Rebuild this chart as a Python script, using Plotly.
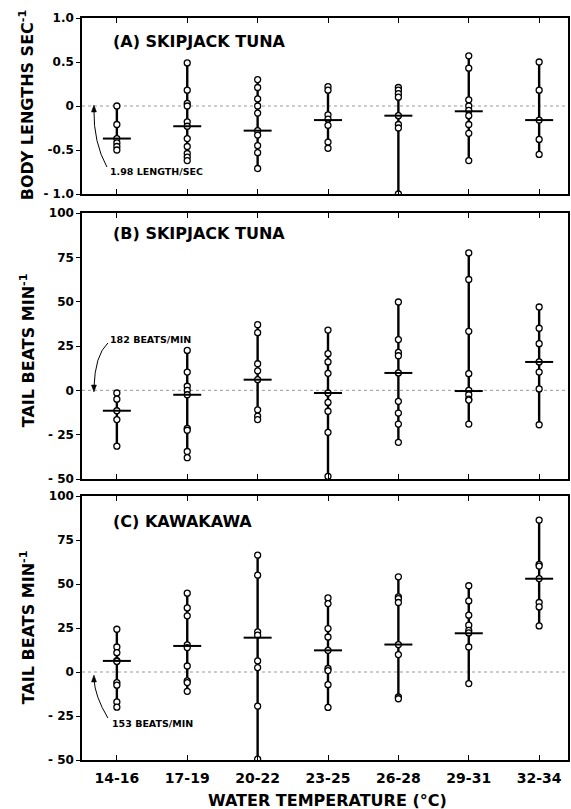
import plotly.graph_objects as go

# ---------------- data ----------------
temps = ["14-16", "17-19", "20-22", "23-25", "26-28", "29-31", "32-34"]

# (A) Skipjack tuna, body lengths / sec (relative)
a_vals = [
    [0.0, -0.21, -0.37, -0.42, -0.46, -0.50],
    [0.49, 0.18, 0.03, 0.0, -0.18, -0.23, -0.37, -0.46, -0.54, -0.58, -0.62],
    [0.30, 0.21, 0.08, 0.0, -0.08, -0.28, -0.33, -0.45, -0.53, -0.71],
    [0.22, 0.18, -0.10, -0.15, -0.22, -0.41, -0.48],
    [0.21, 0.18, 0.14, 0.10, -0.11, -0.21, -0.25, -1.0],
    [0.57, 0.43, 0.07, 0.0, -0.05, -0.11, -0.21, -0.31, -0.62],
    [0.50, 0.18, -0.16, -0.38, -0.55],
]
a_means = [-0.37, -0.23, -0.28, -0.16, -0.11, -0.06, -0.16]

# (B) Skipjack tuna, tail beats / min (relative)
b_vals = [
    [-1.5, -5.0, -11.5, -16.5, -31.5],
    [22.5, 10.3, 2.3, 0.0, -2.5, -21.5, -22.5, -34.5, -38.0],
    [37.0, 32.5, 15.0, 11.0, 6.0, -11.0, -14.5, -16.5],
    [34.0, 20.7, 16.0, 9.6, -1.5, -6.8, -11.8, -23.7, -48.5],
    [49.8, 28.6, 21.4, 19.5, 9.8, -6.2, -12.8, -19.0, -29.3],
    [77.5, 62.5, 33.3, 9.4, 0.0, -2.5, -5.0, -5.5, -19.0],
    [47.0, 35.0, 26.3, 16.0, 10.3, 0.8, -19.4],
]
b_means = [-11.5, -2.5, 6.0, -1.5, 9.8, -0.4, 16.0]

# (C) Kawakawa, tail beats / min (relative)
c_vals = [
    [24.3, 14.2, 11.0, 6.5, 6.0, -6.0, -7.5, -17.0, -20.0],
    [44.8, 36.4, 31.9, 15.4, 13.9, 3.4, -5.0, -6.0, -11.0],
    [66.4, 55.0, 22.8, 20.9, 6.3, 2.5, -19.4, -49.5],
    [42.1, 38.9, 24.7, 19.9, 12.3, 2.0, 0.8, -7.2, -20.1],
    [54.1, 42.7, 41.7, 39.5, 15.6, 9.9, -14.2, -15.2],
    [49.0, 40.4, 32.3, 26.6, 23.7, 22.2, 14.2, -6.6],
    [86.3, 61.2, 60.2, 53.1, 39.5, 37.0, 26.2],
]
c_means = [6.3, 14.8, 19.5, 12.3, 15.6, 22.0, 53.0]

a_ticks = [1.0, 0.5, 0.0, -0.5, -1.0]
a_ticktext = ["1.0", "0.5", "0", "-0.5", "- 1.0"]
bc_ticks = [100, 75, 50, 25, 0, -25, -50]
bc_ticktext = ["100", "75", "50", "25", "0", "- 25", "- 50"]

# ---------------- layout helpers ----------------
W, H = 571, 809
L, R, T, B = 82, 570, 18, 760
FONT = "DejaVu Sans"


def fx(px):
    return (px - L) / (R - L)


def fy(py):
    return (B - py) / (B - T)


spacing = 70.67
xr = [(L - 117) / spacing, (R - 117) / spacing]

fig = go.Figure()

panels = [
    (a_vals, a_means, "x3", "y3"),
    (b_vals, b_means, "x2", "y2"),
    (c_vals, c_means, "x", "y"),
]

for vals, means, xa, ya in panels:
    lx, ly = [], []
    for i, v in enumerate(vals):
        lx += [i, i, None]
        ly += [min(v), max(v), None]
    fig.add_trace(go.Scatter(x=lx, y=ly, mode="lines", xaxis=xa, yaxis=ya,
                             line=dict(color="black", width=2.4),
                             showlegend=False, hoverinfo="skip"))
    px_, py_ = [], []
    for i, v in enumerate(vals):
        px_ += [i] * len(v)
        py_ += v
    fig.add_trace(go.Scatter(x=px_, y=py_, mode="markers", xaxis=xa, yaxis=ya,
                             marker=dict(symbol="circle", size=6, color="white",
                                         line=dict(color="black", width=1.3)),
                             showlegend=False))
    fig.add_trace(go.Scatter(x=list(range(len(means))), y=means, mode="markers",
                             xaxis=xa, yaxis=ya,
                             marker=dict(symbol="line-ew", size=20,
                                         line=dict(color="black", width=2)),
                             showlegend=False))

axis_common = dict(showline=True, linecolor="black", linewidth=1.5, mirror=True,
                   showgrid=False, zeroline=False)

xcommon = dict(axis_common, range=xr, tickvals=list(range(len(temps))),
               ticktext=temps, ticks="inside", ticklen=5, tickwidth=1,
               tickcolor="black", mirror="ticks",
               tickfont=dict(family=FONT, size=14, color="black", weight="bold"))

ycommon = dict(axis_common, ticks="outside", ticklen=4, tickwidth=1,
               tickcolor="black",
               tickfont=dict(family=FONT, size=12, color="black", weight="bold"))

dA = [fy(194), 1.0]
dB = [fy(479), fy(213)]
dC = [0.0, fy(496)]

fig.update_layout(
    width=W, height=H,
    margin=dict(l=L, r=W - R, t=T, b=H - B),
    paper_bgcolor="white", plot_bgcolor="white",
    xaxis=dict(xcommon, anchor="y", domain=[0, 1], ticklabelstandoff=4),
    xaxis2=dict(xcommon, anchor="y2", domain=[0, 1], showticklabels=False),
    xaxis3=dict(xcommon, anchor="y3", domain=[0, 1], showticklabels=False),
    yaxis=dict(ycommon, anchor="x", domain=dC, range=[-50, 100],
               tickvals=bc_ticks, ticktext=bc_ticktext),
    yaxis2=dict(ycommon, anchor="x2", domain=dB, range=[-50, 100],
                tickvals=bc_ticks, ticktext=bc_ticktext),
    yaxis3=dict(ycommon, anchor="x3", domain=dA, range=[-1.0, 1.0],
                tickvals=a_ticks, ticktext=a_ticktext),
)

# dotted zero lines
for xa, ya in [("x", "y"), ("x2", "y2"), ("x3", "y3")]:
    fig.add_shape(type="line", xref=f"{xa} domain", yref=ya, x0=0, x1=1, y0=0, y1=0,
                  line=dict(color="#999999", width=1, dash="dot"), layer="below")

bold = dict(family=FONT, color="black", weight="bold")

# panel titles
for text, ypix in [("(A) SKIPJACK TUNA", 41), ("(B) SKIPJACK TUNA", 234), ("(C) KAWAKAWA", 521)]:
    fig.add_annotation(text=text, xref="paper", yref="paper", x=fx(111), y=fy(ypix),
                       xanchor="left", yanchor="middle", showarrow=False,
                       font=dict(bold, size=16))

# y-axis titles
for text, ypix in [("BODY LENGTHS SEC<sup>-1</sup>", 105),
                   ("TAIL BEATS MIN<sup>-1</sup>", 350),
                   ("TAIL BEATS MIN<sup>-1</sup>", 627)]:
    fig.add_annotation(text=text, xref="paper", yref="paper", x=fx(27), y=fy(ypix),
                       xanchor="center", yanchor="middle", textangle=-90,
                       showarrow=False, font=dict(bold, size=16))

# x-axis title
fig.add_annotation(text="WATER TEMPERATURE (°C)", xref="paper", yref="paper",
                   x=fx(329), y=fy(800), xanchor="center", yanchor="middle",
                   showarrow=False, font=dict(bold, size=16))

# baseline annotations with curved arrows (pixel positions of the reference)
notes = [
    ("1.98 LENGTH/SEC", (108, 171), (107, 167), (93.5, 142.5), (94, 110),
     [(94, 105), (91.5, 112), (96.5, 112)]),
    ("182 BEATS/MIN", (108, 339), (108, 343), (95, 355), (94, 388),
     [(94, 392), (91.5, 385), (96.5, 385)]),
    ("153 BEATS/MIN", (110, 723), (108, 718), (95, 696.5), (94, 679),
     [(94, 675), (91.5, 682), (96.5, 682)]),
]
for text, tpos, s, c, e, tri in notes:
    fig.add_annotation(text=text, xref="paper", yref="paper", x=fx(tpos[0]), y=fy(tpos[1]),
                       xanchor="left", yanchor="middle", showarrow=False,
                       font=dict(bold, size=9.5))
    path = f"M {fx(s[0])},{fy(s[1])} Q {fx(c[0])},{fy(c[1])} {fx(e[0])},{fy(e[1])}"
    fig.add_shape(type="path", xref="paper", yref="paper", path=path,
                  line=dict(color="black", width=1))
    tpath = "M " + " L ".join(f"{fx(p[0])},{fy(p[1])}" for p in tri) + " Z"
    fig.add_shape(type="path", xref="paper", yref="paper", path=tpath,
                  fillcolor="black", line=dict(color="black", width=0.5))

fig.write_html("out.html", config={"displayModeBar": False},
               post_script="document.body.style.margin='0';")
